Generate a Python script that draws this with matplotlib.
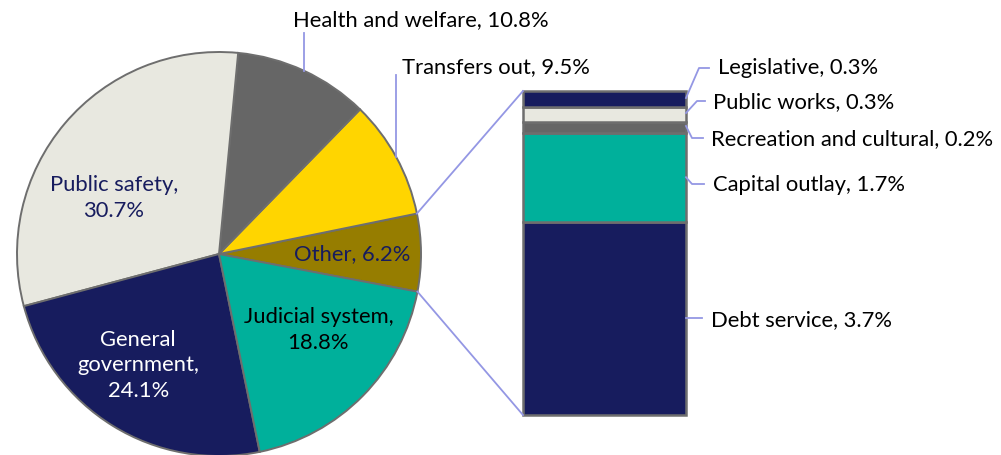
import numpy as np
import matplotlib
matplotlib.use('Agg')
import matplotlib.pyplot as plt

plt.rcParams['font.family'] = ['Lato', 'DejaVu Sans']

# main pie, counterclockwise starting from "Other"
pie_labels = ['Other', 'Transfers out', 'Health and welfare', 'Public safety',
              'General government', 'Judicial system']
pie_values = [6.2, 9.5, 10.8, 30.7, 24.1, 18.8]
pie_colors = ['#967D00', '#FFD500', '#666666', '#E8E8E0', '#171C5E', '#00B09B']

# breakdown of "Other", bottom to top
bar_labels = ['Debt service', 'Capital outlay', 'Recreation and cultural',
              'Public works', 'Legislative']
bar_values = [3.7, 1.7, 0.2, 0.3, 0.3]
bar_colors = ['#171C5E', '#00B09B', '#666666', '#E8E8E0', '#171C5E']

W, H = 1001, 455
fig = plt.figure(figsize=(W / 100, H / 100), dpi=100)
ax = fig.add_axes([0, 0, 1, 1])
ax.set_xlim(0, W)
ax.set_ylim(0, H)
ax.set_aspect('equal')
ax.axis('off')

edge = '#6E6E6E'
lead = '#9497E4'
fs = 15.8

# pie
cx, cy, R = 219, H - 254, 202
start = -pie_values[0] / sum(pie_values) * 360 / 2 + 0.4
wedges, _ = ax.pie(pie_values, colors=pie_colors, startangle=start,
                   counterclock=True, center=(cx, cy), radius=R,
                   wedgeprops=dict(edgecolor=edge, linewidth=1.4))
ax.set_xlim(0, W)
ax.set_ylim(0, H)


def mid_angle(w):
    return np.deg2rad((w.theta1 + w.theta2) / 2)


# inside labels: (text, angle deg, radius fraction, color)
inside = {
    'Other': ('Other, 6.2%', 0, 0.66, '#171C5E'),
    'Public safety': ('Public safety,\n30.7%', 152, 0.59, '#171C5E'),
    'General government': ('General\ngovernment,\n24.1%', 234, 0.68, 'white'),
    'Judicial system': ('Judicial system,\n18.8%', -37.5, 0.62, 'black'),
}
for name, (txt, ang, rf, col) in inside.items():
    a = np.deg2rad(ang)
    ax.text(cx + rf * R * np.cos(a), cy + rf * R * np.sin(a), txt,
            ha='center', va='center', color=col, fontsize=fs,
            linespacing=1.35)

# outside labels with vertical leaders
outside = {'Health and welfare': (H - 33, 293, H - 20),
           'Transfers out': (H - 75, 402, H - 67)}
for name, (ytop, tx, ty) in outside.items():
    i = pie_labels.index(name)
    a = mid_angle(wedges[i])
    x0, y0 = cx + R * np.cos(a), cy + R * np.sin(a)
    ax.plot([x0, x0], [y0, ytop], color=lead, lw=1.3)
    ax.text(tx, ty, f'{name}, {pie_values[i]}%', ha='left', va='center',
            fontsize=fs, color='black')

# stacked bar
bx0, bx1 = 523, 686
bbot = H - 415
scale = 324 / sum(bar_values)
bottom = bbot
seg_mid = []
for v, c in zip(bar_values, bar_colors):
    ax.bar((bx0 + bx1) / 2, v * scale, width=bx1 - bx0, bottom=bottom,
           color=c, edgecolor=edge, linewidth=1.8)
    seg_mid.append(bottom + v * scale / 2)
    bottom += v * scale
btop = bottom

# connectors from "Other" wedge to bar
w = wedges[0]
for th, by in [(w.theta2, btop), (w.theta1, bbot)]:
    a = np.deg2rad(th)
    ax.plot([cx + R * np.cos(a), bx0], [cy + R * np.sin(a), by],
            color=lead, lw=1.3)

# bar labels: leader (start y, elbow x, elbow y, end x, text x, text y)
bar_lead = {
    'Legislative': (H - 98, 699, H - 68, 709, 718, H - 68),
    'Public works': (H - 113, 697, H - 101, 705, 713, H - 102),
    'Recreation and cultural': (H - 126, 692, H - 138, 703, 711, H - 139),
    'Capital outlay': (None, 692, H - 184, 704, 713, H - 185),
    'Debt service': (None, 690, None, 702, 711, H - 320),
}
for i, name in enumerate(bar_labels):
    y0, ex, ey, endx, tx, ty = bar_lead[name]
    if y0 is None:
        y0 = seg_mid[i]
    if ey is None:
        ey = y0
    ax.plot([bx1, ex, endx], [y0, ey, ey], color=lead, lw=1.3)
    ax.text(tx, ty, f'{name}, {bar_values[i]}%', ha='left', va='center',
            fontsize=fs, color='black')

fig.savefig('out.png', dpi=100, facecolor='white')
